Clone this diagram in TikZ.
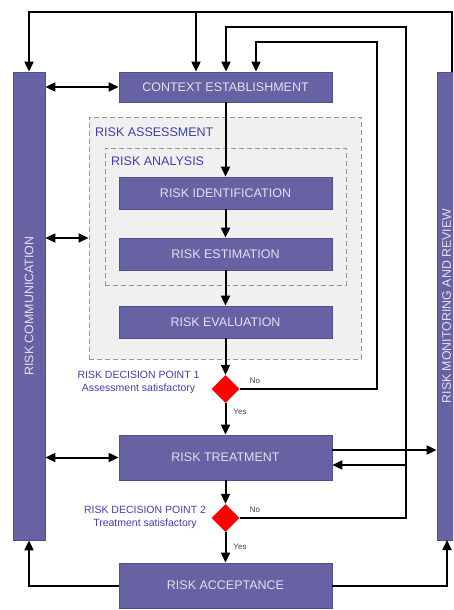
\documentclass[tikz,border=0pt]{standalone}
\usepackage{fontspec}
\setmainfont{Liberation Sans}
\usetikzlibrary{arrows.meta,shapes.geometric}
\definecolor{boxfill}{RGB}{102,98,163}
\definecolor{boxedge}{RGB}{80,80,140}
\definecolor{boxtext}{RGB}{225,225,240}
\definecolor{lblue}{RGB}{64,64,176}
\definecolor{dashgray}{RGB}{150,150,150}
\definecolor{areafill}{RGB}{240,240,240}
\tikzset{
  procbox/.style={draw=boxedge, line width=0.8pt, fill=boxfill, text=boxtext, minimum width=213pt, inner sep=0pt, font=\fontsize{12.5}{14}\selectfont},
  barbox/.style={draw=boxedge, line width=0.8pt, fill=boxfill, minimum width=32pt, minimum height=468pt, inner sep=0pt},
  bartext/.style={text=boxtext, rotate=90, font=\fontsize{12.4}{14}\selectfont, inner sep=0pt},
  areabox/.style={draw=dashgray, dash pattern=on 5pt off 3pt, line width=1pt, inner sep=0pt},
  arealabel/.style={text=lblue, anchor=west, inner sep=0pt, font=\fontsize{12.5}{14}\selectfont},
  decision/.style={diamond, fill=red, minimum width=28pt, minimum height=28pt, inner sep=0pt},
  declabel/.style={text=lblue, inner sep=0pt, align=center, font=\fontsize{10.5}{13}\selectfont},
  yn/.style={text=black!75, inner sep=0pt, font=\fontsize{8}{9}\selectfont},
  conn/.style={line width=2pt, line join=miter},
  arr/.style={conn, -{Triangle[length=10pt,width=9pt]}},
  darr/.style={conn, {Triangle[length=10pt,width=9pt]}-{Triangle[length=10pt,width=9pt]}},
}
\begin{document}
\begin{tikzpicture}[x=1pt,y=-1pt]
\clip (0,0) rectangle (453,610);
\fill[white] (0,0) rectangle (453,610);

% dashed areas
\node[areabox, fill=areafill, minimum width=272pt, minimum height=242pt] (assess) at (225,238) {};
\node[areabox, minimum width=241pt, minimum height=137pt] (analysis) at (225.5,216.5) {};
\node[arealabel] (assesslbl) at (95,132) {RISK ASSESSMENT};
\node[arealabel] (analysislbl) at (111,161) {RISK ANALYSIS};

% bars
\node[barbox] (lbar) at (29,306) {};
\node[bartext] (lbartext) at (29,306) {RISK COMMUNICATION};
\node[barbox] (rbar) at (453,306) {};
\node[bartext] (rbartext) at (446.5,306) {RISK MONITORING AND REVIEW};

% process boxes
\node[procbox, minimum height=30pt] (context) at (225.5,87) {CONTEXT ESTABLISHMENT};
\node[procbox, minimum height=32pt] (ident) at (225.5,193) {RISK IDENTIFICATION};
\node[procbox, minimum height=32pt] (estim) at (225.5,254) {RISK ESTIMATION};
\node[procbox, minimum height=32pt] (evalb) at (225.5,322) {RISK EVALUATION};
\node[procbox, minimum height=45pt] (treat) at (225.5,457.5) {RISK TREATMENT};
\node[procbox, minimum height=45pt] (accept) at (225.5,585.5) {RISK ACCEPTANCE};

% decisions
\node[decision] (d1) at (225.5,389) {};
\node[decision] (d2) at (225.5,518) {};
\node[declabel] (d1lbl) at (138.5,382.5) {RISK DECISION POINT 1\\Assessment satisfactory};
\node[declabel] (d2lbl) at (145,517.5) {RISK DECISION POINT 2\\Treatment satisfactory};
\node[yn] (no1) at (255,381) {No};
\node[yn] (yes1) at (240,412) {Yes};
\node[yn] (no2) at (255,510) {No};
\node[yn] (yes2) at (240,547) {Yes};

% main chain
\draw[arr] (context.south) -- (ident.north);
\draw[arr] (ident.south) -- (estim.north);
\draw[arr] (estim.south) -- (evalb.north);
\draw[arr] (evalb.south) -- (d1.north);
\draw[arr] (d1.south) -- (treat.north);
\draw[arr] (treat.south) -- (d2.north);
\draw[arr] (d2.south) -- (accept.north);

% top loop from monitoring
\coordinate (tr) at (452,12);
\coordinate (tl) at (29,12);
\coordinate (tc) at (196,12);
\draw[arr] (tr |- rbar.north) -- (tr) -- (tl) -- (tl |- lbar.north);
\draw[arr] (tc) -- (tc |- context.north);

% loop from decision 2
\coordinate (l2a) at (406,27);
\coordinate (l2b) at (226,27);
\draw[arr] (d2.east) -- (l2a |- d2.east) -- (l2a) -- (l2b) -- (l2b |- context.north);
\coordinate (l2c) at (406,465);
\draw[arr] (l2c) -- (treat.east |- l2c);

% loop from decision 1
\coordinate (l1a) at (377,42);
\coordinate (l1b) at (256,42);
\draw[arr] (d1.east) -- (l1a |- d1.east) -- (l1a) -- (l1b) -- (l1b |- context.north);

% treatment to monitoring
\coordinate (tm) at (332,450);
\draw[arr] (tm) -- (rbar.west |- tm);

% acceptance outputs
\draw[arr] (accept.west) -| (lbar.south);
\coordinate (ar) at (447,540);
\draw[arr] (accept.east) -| (ar);

% communication links
\draw[darr] (lbar.east |- context.west) -- (context.west);
\draw[darr] (lbar.east |- assess.west) -- (assess.west);
\draw[darr] (lbar.east |- treat.west) -- (treat.west);
\end{tikzpicture}
\end{document}
